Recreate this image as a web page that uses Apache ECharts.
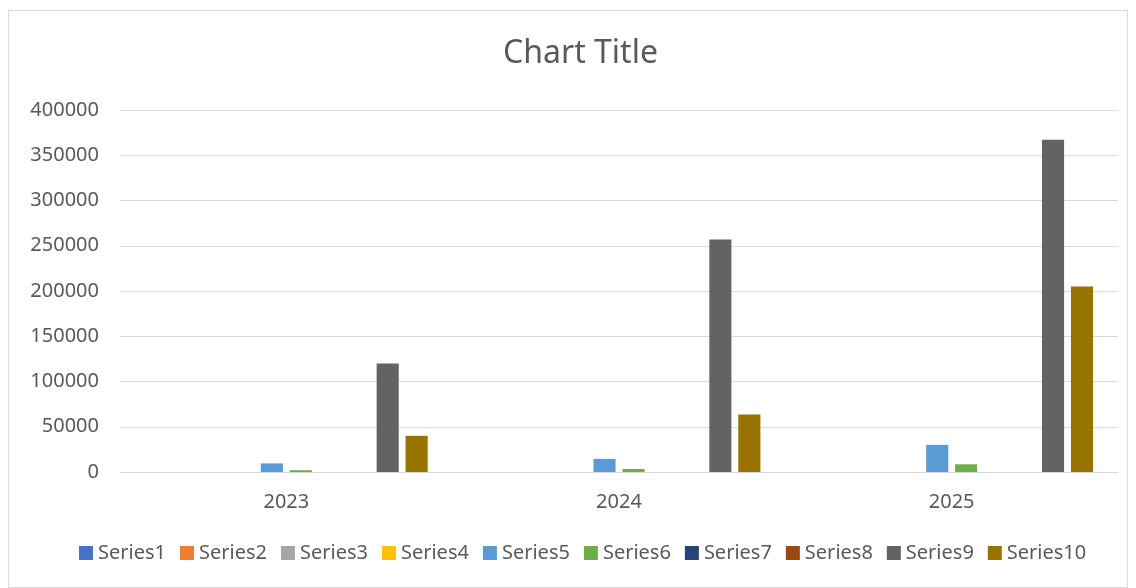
<!DOCTYPE html>
<html>
<head>
<meta charset="utf-8">
<script src="https://cdn.jsdelivr.net/npm/echarts@6/dist/echarts.min.js"></script>
<style>
html,body{margin:0;padding:0;background:#fff;}
#frame{position:absolute;left:8px;top:10px;width:1120px;height:578px;border:1px solid #d9d9d9;box-sizing:border-box;}
#chart{position:absolute;left:0;top:0;width:1136px;height:588px;}
</style>
</head>
<body>
<div id="frame"></div>
<div id="chart"></div>
<script>
const categories = ['2023', '2024', '2025'];
const seriesNames = ['Series1','Series2','Series3','Series4','Series5','Series6','Series7','Series8','Series9','Series10'];
const s1 = [0, 0, 0];
const s2 = [0, 0, 0];
const s3 = [0, 0, 0];
const s4 = [0, 0, 0];
const s5 = [9500, 14500, 30000];
const s6 = [2000, 3300, 8500];
const s7 = [0, 0, 0];
const s8 = [0, 0, 0];
const s9 = [120000, 257000, 367000];
const s10 = [40000, 63500, 205000];
const yTicks = [0, 50000, 100000, 150000, 200000, 250000, 300000, 350000, 400000];

const colors = ['#4472C4','#ED7D31','#A5A5A5','#FFC000','#5B9BD5','#70AD47','#264478','#9E480E','#636363','#997300'];
const values = [s1,s2,s3,s4,s5,s6,s7,s8,s9,s10];

const chart = echarts.init(document.getElementById('chart'));
chart.setOption({
  animation: false,
  color: colors,
  title: {
    text: 'Chart Title',
    left: 498,
    top: 33,
    textStyle: {fontFamily: 'Noto Sans', fontSize: 32, fontWeight: 'normal', color: '#595959'}
  },
  legend: {
    bottom: 20,
    left: 74,
    itemWidth: 14,
    itemHeight: 14,
    itemGap: 14,
    icon: 'rect',
    textStyle: {fontFamily: 'Noto Sans', fontSize: 20, color: '#595959'},
    data: seriesNames
  },
  grid: {left: 120, right: 18, top: 110, bottom: 116, containLabel: false},
  xAxis: {
    type: 'category',
    data: categories,
    axisLine: {lineStyle: {color: '#d9d9d9', width: 1}},
    axisTick: {show: false},
    axisLabel: {fontFamily: 'Noto Sans', fontSize: 20, color: '#595959', margin: 20}
  },
  yAxis: {
    type: 'value',
    min: yTicks[0],
    max: yTicks[yTicks.length-1],
    interval: 50000,
    axisLine: {show: false},
    axisTick: {show: false},
    splitLine: {lineStyle: {color: '#d9d9d9', width: 1}},
    axisLabel: {fontFamily: 'Noto Sans', fontSize: 20, color: '#595959', margin: 21, formatter: v => String(v)}
  },
  series: seriesNames.map((n, i) => ({
    name: n,
    type: 'bar',
    data: values[i],
    barGap: '31%',
    barCategoryGap: '15%'
  }))
});
</script>
</body>
</html>
